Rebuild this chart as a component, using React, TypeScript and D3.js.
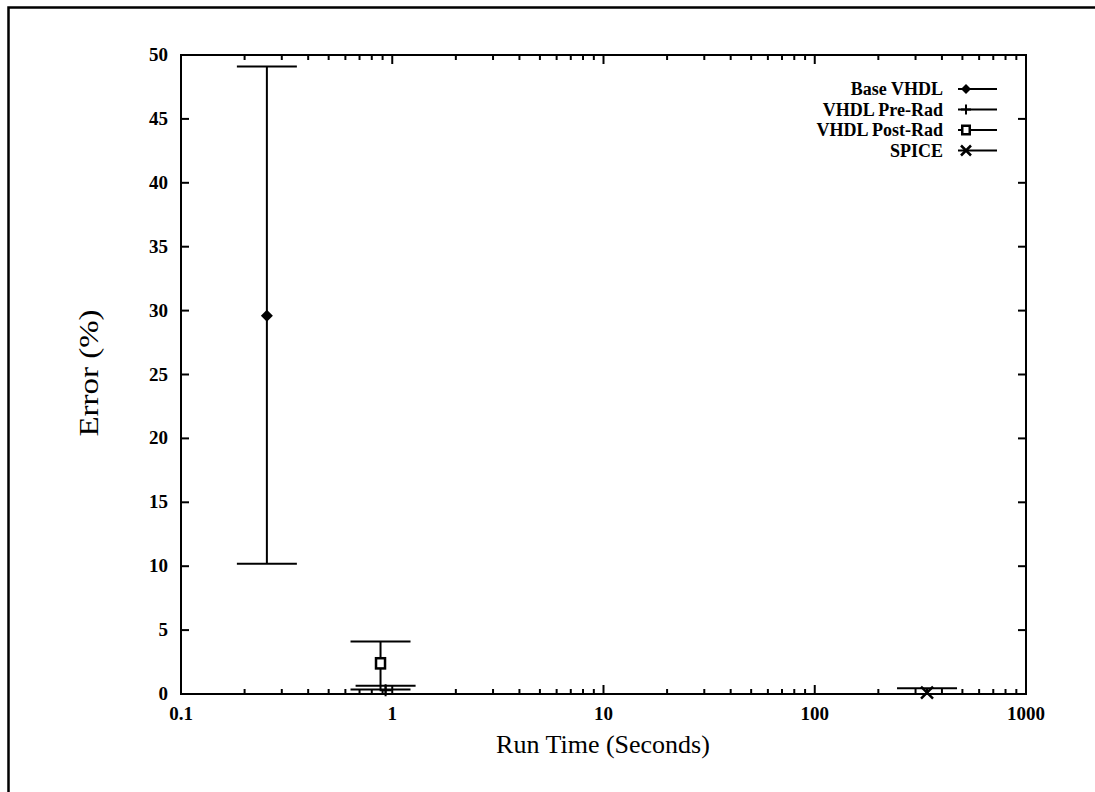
import { useMemo } from "react";
import * as d3 from "d3";

const WIDTH = 1095;
const HEIGHT = 792;

// data
const seriesNames = ["Base VHDL", "VHDL Pre-Rad", "VHDL Post-Rad", "SPICE"];
const runTimes = [0.255, 0.93, 0.88, 340];
const errorValues = [29.6, 0.3, 2.4, 0.1];
const errorLow = [10.2, 0.0, 0.35, 0.0];
const errorHigh = [49.1, 0.65, 4.1, 0.45];
const markers = ["diamond", "plus", "square", "cross"];

const yTicks = d3.range(0, 51, 5);
const xDecades = [0.1, 1, 10, 100, 1000];
const xTickLabels = ["0.1", "1", "10", "100", "1000"];

const FONT = "'Liberation Serif', 'Times New Roman', serif";

const plot = { left: 181, right: 1026, top: 55, bottom: 694 };

const Marker = ({ type, x, y, s = 6 }: { type: string; x: number; y: number; s?: number }) => {
  if (type === "diamond") {
    return <path d={`M${x},${y - s}L${x + s},${y}L${x},${y + s}L${x - s},${y}Z`} fill="#000" />;
  }
  if (type === "plus") {
    return <path d={`M${x - s},${y}H${x + s}M${x},${y - s}V${y + s}`} stroke="#000" strokeWidth={2} />;
  }
  if (type === "square") {
    return (
      <rect
        x={x - s * 0.75}
        y={y - s * 0.85}
        width={s * 1.5}
        height={s * 1.7}
        fill="#fff"
        stroke="#000"
        strokeWidth={2.5}
      />
    );
  }
  return (
    <path
      d={`M${x - s},${y - s}L${x + s},${y + s}M${x - s},${y + s}L${x + s},${y - s}`}
      stroke="#000"
      strokeWidth={2.5}
    />
  );
};

export default function App() {
  const x = useMemo(() => d3.scaleLog().domain([0.1, 1000]).range([plot.left, plot.right]), []);
  const y = useMemo(() => d3.scaleLinear().domain([0, 50]).range([plot.bottom, plot.top]), []);

  const minorTicks = useMemo(() => {
    const out: number[] = [];
    xDecades.slice(0, -1).forEach((d) => {
      for (let k = 2; k <= 9; k++) out.push(d * k);
    });
    return out;
  }, []);

  const CAP = 30;

  return (
    <svg
      width={WIDTH}
      height={HEIGHT}
      style={{ position: "absolute", left: 0, top: 0, background: "#fff" }}
    >
      {/* scanned page frame */}
      <path d={`M8.5,${HEIGHT}V7.5H${WIDTH}`} fill="none" stroke="#000" strokeWidth={2.5} />

      {/* plot box */}
      <rect
        x={plot.left}
        y={plot.top}
        width={plot.right - plot.left}
        height={plot.bottom - plot.top}
        fill="none"
        stroke="#000"
        strokeWidth={2}
      />

      {/* y ticks */}
      {yTicks.map((t) => (
        <g key={`y${t}`}>
          <line x1={plot.left} x2={plot.left + 8} y1={y(t)} y2={y(t)} stroke="#000" strokeWidth={2} />
          <line x1={plot.right} x2={plot.right - 8} y1={y(t)} y2={y(t)} stroke="#000" strokeWidth={2} />
          <text
            x={plot.left - 13}
            y={y(t) + 6}
            textAnchor="end"
            fontFamily={FONT}
            fontWeight="bold"
            fontSize={19}
          >
            {t}
          </text>
        </g>
      ))}

      {/* x ticks */}
      {xDecades.map((t, i) => (
        <g key={`x${t}`}>
          <line x1={x(t)} x2={x(t)} y1={plot.bottom} y2={plot.bottom - 9} stroke="#000" strokeWidth={2} />
          <line x1={x(t)} x2={x(t)} y1={plot.top} y2={plot.top + 9} stroke="#000" strokeWidth={2} />
          <text
            x={x(t)}
            y={plot.bottom + 26}
            textAnchor="middle"
            fontFamily={FONT}
            fontWeight="bold"
            fontSize={19}
          >
            {xTickLabels[i]}
          </text>
        </g>
      ))}
      {minorTicks.map((t) => (
        <g key={`m${t}`}>
          <line x1={x(t)} x2={x(t)} y1={plot.bottom} y2={plot.bottom - 5} stroke="#000" strokeWidth={2} />
          <line x1={x(t)} x2={x(t)} y1={plot.top} y2={plot.top + 5} stroke="#000" strokeWidth={2} />
        </g>
      ))}

      {/* error bars and points */}
      {seriesNames.map((name, i) => {
        const cx = x(runTimes[i]);
        return (
          <g key={name}>
            <line x1={cx} x2={cx} y1={y(errorLow[i])} y2={y(errorHigh[i])} stroke="#000" strokeWidth={2} />
            <line x1={cx - CAP} x2={cx + CAP} y1={y(errorLow[i])} y2={y(errorLow[i])} stroke="#000" strokeWidth={2} />
            <line x1={cx - CAP} x2={cx + CAP} y1={y(errorHigh[i])} y2={y(errorHigh[i])} stroke="#000" strokeWidth={2} />
            <Marker type={markers[i]} x={cx} y={y(errorValues[i])} />
          </g>
        );
      })}

      {/* legend */}
      {seriesNames.map((name, i) => {
        const ly = 89 + i * 20.5;
        return (
          <g key={`l${name}`}>
            <text
              x={943}
              y={ly + 6}
              textAnchor="end"
              fontFamily={FONT}
              fontWeight="bold"
              fontSize={18}
            >
              {name}
            </text>
            <line x1={958} x2={997} y1={ly} y2={ly} stroke="#000" strokeWidth={2} />
            <Marker type={markers[i]} x={966} y={ly} s={5} />
          </g>
        );
      })}

      {/* axis titles */}
      <text
        x={603}
        y={753}
        textAnchor="middle"
        fontFamily={FONT}
        fontSize={26}
      >
        Run Time (Seconds)
      </text>
      <text
        transform={`translate(98, 373) rotate(-90)`}
        textAnchor="middle"
        fontFamily={FONT}
        fontSize={28}
        textLength={127}
        lengthAdjust="spacingAndGlyphs"
      >
        Error (%)
      </text>
    </svg>
  );
}
